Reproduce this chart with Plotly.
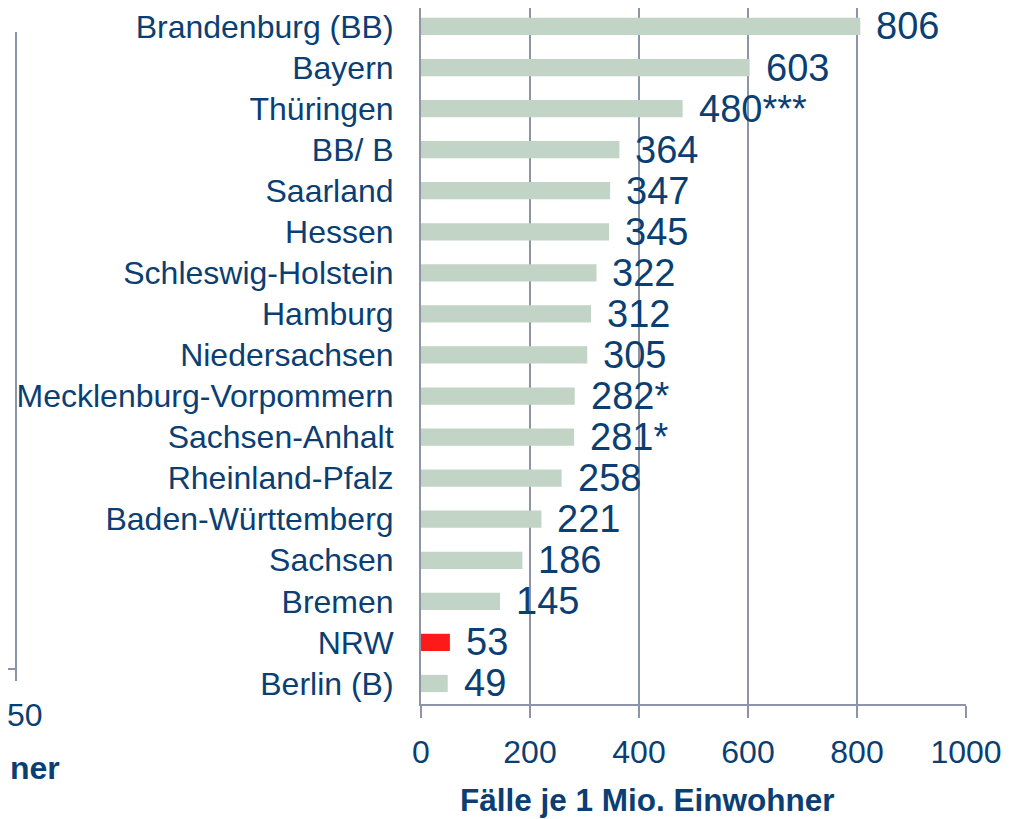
import plotly.graph_objects as go

categories = ["Brandenburg (BB)", "Bayern", "Thüringen", "BB/ B", "Saarland", "Hessen",
              "Schleswig-Holstein", "Hamburg", "Niedersachsen", "Mecklenburg-Vorpommern",
              "Sachsen-Anhalt", "Rheinland-Pfalz", "Baden-Württemberg", "Sachsen",
              "Bremen", "NRW", "Berlin (B)"]
values = [806, 603, 480, 364, 347, 345, 322, 312, 305, 282, 281, 258, 221, 186, 145, 53, 49]
labels = ["806", "603", "480***", "364", "347", "345", "322", "312", "305", "282*", "281*",
          "258", "221", "186", "145", "53", "49"]
tick_vals = [0, 200, 400, 600, 800, 1000]

BLUE = "#0B3F73"
GRID = "#8C95A8"
FONT = "Liberation Sans, Arial"
bar_colors = ["#FF1A1A" if c == "NRW" else "#C2D4C5" for c in categories]

# page offset (browser body margin)
OFF = 8
W, H = 1021, 819
# target screen positions of the plot area
SL, SR, ST, SB = 421, 966, 8, 704
L, R, T, B = SL - OFF, SR - OFF, ST - OFF, SB - OFF

def px(xs):
    return (xs - SL) / (SR - SL)

def py(ys):
    return (SB - ys) / (SB - ST)

fig = go.Figure()
fig.add_trace(go.Bar(
    y=categories, x=values, orientation="h",
    marker=dict(color=bar_colors, line=dict(width=0)),
    width=0.42, hoverinfo="skip",
))

for c, v, t in zip(categories, values, labels):
    fig.add_annotation(x=v, y=c, text=t, showarrow=False, xanchor="left", yanchor="middle",
                       xshift=14, font=dict(size=38, color=BLUE, family=FONT))

# x-axis title (placed slightly left of plot centre as in the reference)
fig.add_annotation(xref="paper", yref="paper", x=px(647), y=py(800),
                   text="<b>Fälle je 1 Mio. Einwohner</b>", showarrow=False,
                   xanchor="center", yanchor="middle",
                   font=dict(size=31.5, color=BLUE, family=FONT))

# remnant of neighbouring chart at left edge
fig.add_shape(type="line", xref="paper", yref="paper", x0=px(16), x1=px(16), y0=py(32), y1=py(681),
              line=dict(color=GRID, width=2))
fig.add_shape(type="line", xref="paper", yref="paper", x0=px(-5), x1=px(16), y0=py(669), y1=py(669),
              line=dict(color=GRID, width=2))
fig.add_annotation(xref="paper", yref="paper", x=px(25), y=py(715), text="50", showarrow=False,
                   xanchor="center", yanchor="middle",
                   font=dict(size=32, color=BLUE, family=FONT))
fig.add_annotation(xref="paper", yref="paper", x=px(8), y=py(768), text="<b>ner</b>", showarrow=False,
                   xanchor="left", yanchor="middle",
                   font=dict(size=32, color=BLUE, family=FONT))

fig.update_layout(
    width=W, height=H,
    margin=dict(l=L, r=W - R, t=T, b=H - B, pad=0),
    paper_bgcolor="white", plot_bgcolor="white",
    showlegend=False,
    font=dict(family=FONT, color=BLUE),
    xaxis=dict(
        range=[0, 1000], tickvals=tick_vals, ticktext=[str(v) for v in tick_vals],
        showgrid=True, gridcolor=GRID, gridwidth=2,
        showline=True, linecolor=GRID, linewidth=2,
        ticks="outside", ticklen=12, tickwidth=2, tickcolor=GRID,
        tickfont=dict(size=32, color=BLUE), ticklabelstandoff=7,
        zeroline=False, fixedrange=True,
    ),
    yaxis=dict(
        range=[16.5, -0.45],
        showline=True, linecolor=GRID, linewidth=2,
        ticks="", tickfont=dict(size=32, color=BLUE), ticklabelstandoff=19,
        showgrid=False, fixedrange=True,
    ),
)

fig.write_html("out.html")
